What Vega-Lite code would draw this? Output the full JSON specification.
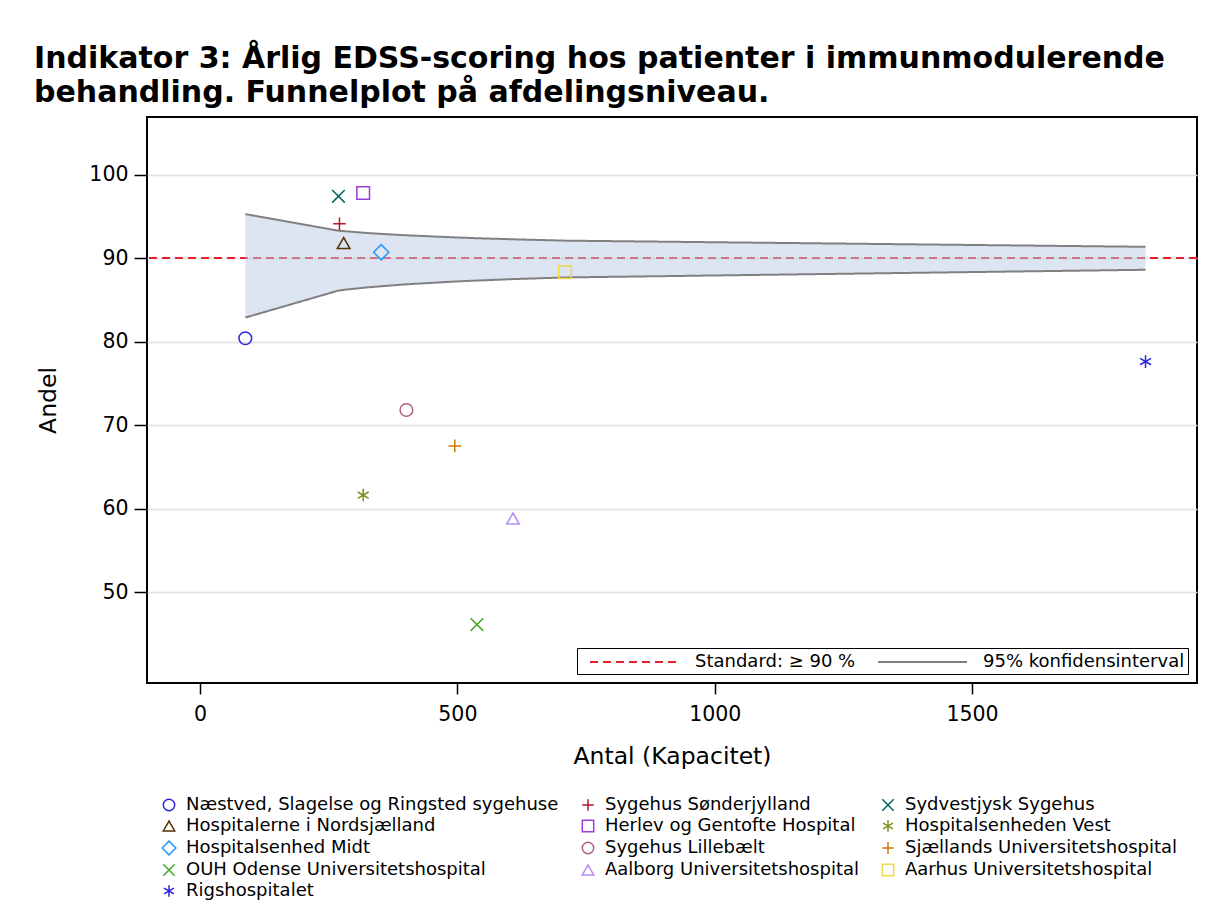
{
  "$schema": "https://vega.github.io/schema/vega-lite/v6.json",
  "width": 1050,
  "height": 566,
  "autosize": {"type": "none"},
  "padding": {"left": 147, "top": 117, "right": 11, "bottom": 227},
  "background": "white",
  "title": {
    "text": ["Indikator 3: Årlig EDSS-scoring hos patienter i immunmodulerende", "behandling. Funnelplot på afdelingsniveau."],
    "anchor": "start",
    "frame": "group",
    "dx": -113,
    "offset": 9,
    "font": "DejaVu Sans",
    "fontSize": 30,
    "fontWeight": "bold",
    "color": "black",
    "lineHeight": 34
  },
  "datasets": {
    "points": [
      {"hospital": "Næstved, Slagelse og Ringsted sygehuse", "n": 88, "pct": 80.4},
      {"hospital": "Sygehus Sønderjylland", "n": 271, "pct": 94.1},
      {"hospital": "Sydvestjysk Sygehus", "n": 269, "pct": 97.4},
      {"hospital": "Hospitalerne i Nordsjælland", "n": 279, "pct": 91.8},
      {"hospital": "Herlev og Gentofte Hospital", "n": 317, "pct": 97.8},
      {"hospital": "Hospitalsenheden Vest", "n": 317, "pct": 61.6},
      {"hospital": "Hospitalsenhed Midt", "n": 352, "pct": 90.7},
      {"hospital": "Sygehus Lillebælt", "n": 401, "pct": 71.8},
      {"hospital": "Sjællands Universitetshospital", "n": 495, "pct": 67.5},
      {"hospital": "OUH Odense Universitetshospital", "n": 538, "pct": 46.1},
      {"hospital": "Aalborg Universitetshospital", "n": 608, "pct": 58.8},
      {"hospital": "Aarhus Universitetshospital", "n": 709, "pct": 88.3},
      {"hospital": "Rigshospitalet", "n": 1837, "pct": 77.6}
    ],
    "funnel": [
      {"kind": "95% konfidensinterval", "n": 88, "lower": 82.87, "upper": 95.27},
      {"kind": "95% konfidensinterval", "n": 269, "lower": 86.11, "upper": 93.28},
      {"kind": "95% konfidensinterval", "n": 271, "lower": 86.13, "upper": 93.27},
      {"kind": "95% konfidensinterval", "n": 279, "lower": 86.19, "upper": 93.23},
      {"kind": "95% konfidensinterval", "n": 317, "lower": 86.44, "upper": 93.04},
      {"kind": "95% konfidensinterval", "n": 352, "lower": 86.63, "upper": 92.9},
      {"kind": "95% konfidensinterval", "n": 401, "lower": 86.86, "upper": 92.73},
      {"kind": "95% konfidensinterval", "n": 495, "lower": 87.19, "upper": 92.48},
      {"kind": "95% konfidensinterval", "n": 538, "lower": 87.31, "upper": 92.38},
      {"kind": "95% konfidensinterval", "n": 608, "lower": 87.48, "upper": 92.25},
      {"kind": "95% konfidensinterval", "n": 709, "lower": 87.68, "upper": 92.09},
      {"kind": "95% konfidensinterval", "n": 1837, "lower": 88.6, "upper": 91.35}
    ],
    "std": [{"kind": "Standard: ≥ 90 %", "value": 90}]
  },
  "layer": [
    {
      "data": {"name": "std"},
      "mark": {"type": "rule", "strokeWidth": 2},
      "encoding": {
        "y": {"field": "value", "type": "quantitative", "scale": {"domain": [39.1, 106.9], "nice": false, "zero": false}, "axis": {"values": [50, 60, 70, 80, 90, 100], "title": "Andel"}},
        "stroke": {
          "field": "kind", "type": "nominal",
          "scale": {"domain": ["Standard: ≥ 90 %", "95% konfidensinterval"], "range": ["#E8202A", "#808080"]},
          "legend": {"orient": "bottom-right", "direction": "horizontal", "title": null, "symbolType": "M-0.1,0L8.8,0", "symbolSize": 400, "symbolStrokeWidth": 2, "labelOffset": 93, "labelFontSize": 18, "labelExpr": "datum.label + '  '", "strokeColor": "black", "fillColor": "white", "padding": 3, "offset": 9, "columnPadding": 12}
        },
        "strokeDash": {
          "field": "kind", "type": "nominal",
          "scale": {"domain": ["Standard: ≥ 90 %", "95% konfidensinterval"], "range": [[8, 5], [1, 0]]},
          "legend": {"orient": "bottom-right", "direction": "horizontal", "title": null, "symbolType": "M-0.1,0L8.8,0", "symbolSize": 400, "symbolStrokeWidth": 2, "labelOffset": 93, "labelFontSize": 18, "labelExpr": "datum.label + '  '", "strokeColor": "black", "fillColor": "white", "padding": 3, "offset": 9, "columnPadding": 12}
        }
      }
    },
    {
      "data": {"name": "funnel"},
      "mark": {"type": "area", "color": "#B9CBE3", "opacity": 0.5},
      "encoding": {
        "x": {"field": "n", "type": "quantitative", "scale": {"domain": [-103, 1937], "nice": false, "zero": false}, "axis": {"values": [0, 500, 1000, 1500], "format": "d", "title": "Antal (Kapacitet)"}},
        "y": {"field": "lower", "type": "quantitative", "scale": {"domain": [39.1, 106.9], "nice": false, "zero": false}, "axis": {"values": [50, 60, 70, 80, 90, 100], "title": "Andel"}},
        "y2": {"field": "upper"}
      }
    },
    {
      "data": {"name": "funnel"},
      "mark": {"type": "line", "strokeWidth": 2},
      "encoding": {
        "x": {"field": "n", "type": "quantitative", "scale": {"domain": [-103, 1937], "nice": false, "zero": false}, "axis": {"values": [0, 500, 1000, 1500], "format": "d", "title": "Antal (Kapacitet)"}},
        "y": {"field": "lower", "type": "quantitative", "scale": {"domain": [39.1, 106.9], "nice": false, "zero": false}, "axis": {"values": [50, 60, 70, 80, 90, 100], "title": "Andel"}},
        "stroke": {"field": "kind", "type": "nominal"},
        "strokeDash": {"field": "kind", "type": "nominal"}
      }
    },
    {
      "data": {"name": "funnel"},
      "mark": {"type": "line", "strokeWidth": 2},
      "encoding": {
        "x": {"field": "n", "type": "quantitative", "scale": {"domain": [-103, 1937], "nice": false, "zero": false}, "axis": {"values": [0, 500, 1000, 1500], "format": "d", "title": "Antal (Kapacitet)"}},
        "y": {"field": "upper", "type": "quantitative", "scale": {"domain": [39.1, 106.9], "nice": false, "zero": false}, "axis": {"values": [50, 60, 70, 80, 90, 100], "title": "Andel"}},
        "stroke": {"field": "kind", "type": "nominal"},
        "strokeDash": {"field": "kind", "type": "nominal"}
      }
    },
    {
      "data": {"name": "points"},
      "mark": {"type": "point", "filled": false, "size": 160, "strokeWidth": 1.5, "opacity": 1},
      "encoding": {
        "x": {"field": "n", "type": "quantitative", "scale": {"domain": [-103, 1937], "nice": false, "zero": false}, "axis": {"values": [0, 500, 1000, 1500], "format": "d", "title": "Antal (Kapacitet)"}},
        "y": {"field": "pct", "type": "quantitative", "scale": {"domain": [39.1, 106.9], "nice": false, "zero": false}, "axis": {"values": [50, 60, 70, 80, 90, 100], "title": "Andel"}},
        "color": {
          "field": "hospital", "type": "nominal",
          "scale": {
            "domain": ["Næstved, Slagelse og Ringsted sygehuse", "Sygehus Sønderjylland", "Sydvestjysk Sygehus", "Hospitalerne i Nordsjælland", "Herlev og Gentofte Hospital", "Hospitalsenheden Vest", "Hospitalsenhed Midt", "Sygehus Lillebælt", "Sjællands Universitetshospital", "OUH Odense Universitetshospital", "Aalborg Universitetshospital", "Aarhus Universitetshospital", "Rigshospitalet"],
            "range": ["#2A25D9", "#B2182B", "#01665E", "#543005", "#9D3CDB", "#7F8E1F", "#2597FA", "#B26084", "#D17800", "#47A82A", "#B38EF3", "#EED845", "#2A25D9"]
          },
          "legend": {"orient": "bottom", "columns": 3, "title": null, "labelFontSize": 18, "symbolSize": 130, "symbolStrokeWidth": 1.5, "columnPadding": 20, "rowPadding": 3, "labelOffset": 8, "offset": 15, "padding": 13}
        },
        "shape": {
          "field": "hospital", "type": "nominal",
          "scale": {
            "domain": ["Næstved, Slagelse og Ringsted sygehuse", "Sygehus Sønderjylland", "Sydvestjysk Sygehus", "Hospitalerne i Nordsjælland", "Herlev og Gentofte Hospital", "Hospitalsenheden Vest", "Hospitalsenhed Midt", "Sygehus Lillebælt", "Sjællands Universitetshospital", "OUH Odense Universitetshospital", "Aalborg Universitetshospital", "Aarhus Universitetshospital", "Rigshospitalet"],
            "range": ["circle", "M-1,0L1,0M0,-1L0,1", "M-1,-1L1,1M-1,1L1,-1", "triangle-up", "square", "M0,-1L0,1M-0.866,-0.5L0.866,0.5M-0.866,0.5L0.866,-0.5", "M-1.2,0L0,-1.2L1.2,0L0,1.2Z", "circle", "M-1,0L1,0M0,-1L0,1", "M-1,-1L1,1M-1,1L1,-1", "triangle-up", "square", "M0,-1L0,1M-0.866,-0.5L0.866,0.5M-0.866,0.5L0.866,-0.5"]
          },
          "legend": {"orient": "bottom", "columns": 3, "title": null, "labelFontSize": 18, "symbolSize": 130, "symbolStrokeWidth": 1.5, "columnPadding": 20, "rowPadding": 3, "labelOffset": 8, "offset": 15, "padding": 13}
        }
      }
    }
  ],
  "config": {
    "font": "DejaVu Sans",
    "view": {"stroke": "black", "strokeWidth": 2},
    "axis": {
      "domain": false,
      "tickColor": "black",
      "tickWidth": 1.5,
      "labelFont": "DejaVu Sans",
      "labelFontSize": 20.5,
      "labelColor": "black",
      "titleFont": "DejaVu Sans",
      "titleFontSize": 23.5,
      "titleFontWeight": "normal",
      "titleColor": "black"
    },
    "axisX": {"grid": false, "tickSize": 11, "labelPadding": 10, "titlePadding": 20},
    "axisY": {"grid": true, "gridColor": "#E0E0E0", "gridWidth": 1.5, "tickSize": 13, "labelPadding": 6, "titlePadding": 28},
    "legend": {"labelFont": "DejaVu Sans", "labelColor": "black", "labelLimit": 0}
  }
}
